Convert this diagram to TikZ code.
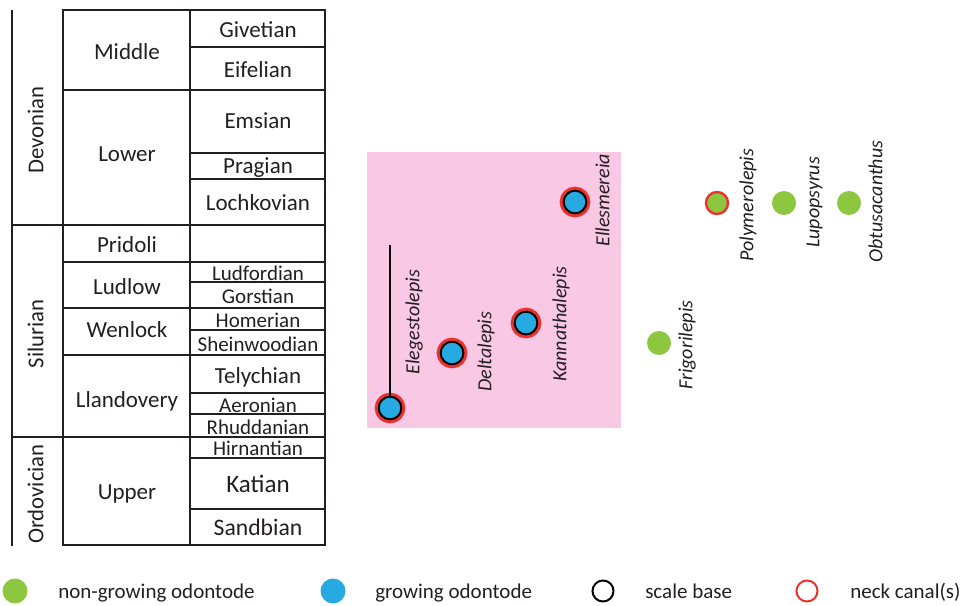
\documentclass[tikz,border=0pt]{standalone}
\usepackage{fontspec}
\setmainfont{Carlito}
\definecolor{ink}{RGB}{35,31,32}
\definecolor{pinkbg}{RGB}{248,200,228}
\definecolor{myblue}{RGB}{39,170,225}
\definecolor{mygreen}{RGB}{141,198,63}
\definecolor{myred}{RGB}{237,50,45}
\tikzset{
  grid/.style={draw=ink, line width=1.5pt},
  txt/.style={inner sep=0pt, text height=0.64em, text depth=0pt, text=ink, yshift=-2.25pt, font=\fontsize{17.25}{20}\selectfont},
  small/.style={txt, font=\fontsize{15.75}{18}\selectfont},
  period/.style={inner sep=0pt, text height=0.64em, text depth=0pt, text=ink, rotate=90, font=\fontsize{17}{20}\selectfont},
  taxon/.style={inner sep=0pt, text height=0.64em, text depth=0pt, text=ink, rotate=90, anchor=west, font=\fontsize{15}{18}\itshape},
  legtxt/.style={inner sep=0pt, text height=0.64em, text depth=0pt, text=ink, anchor=west, yshift=-2.25pt, font=\fontsize{15.75}{18}\selectfont},
  growneck/.style={circle, inner sep=0pt, minimum size=17pt, fill=myblue, draw=black, line width=1.5pt, preaction={draw=myred, line width=6pt}},
  greenneck/.style={circle, inner sep=0pt, minimum size=16.5pt, fill=mygreen, draw=myred, line width=1.8pt},
  greendot/.style={circle, inner sep=0pt, minimum size=18pt, fill=mygreen},
  bluedot/.style={circle, inner sep=0pt, minimum size=18.75pt, fill=myblue},
  ringdot/.style={circle, inner sep=0pt, minimum size=15.75pt, line width=1.5pt},
}
\begin{document}
\begin{tikzpicture}[x=0.75pt,y=-0.75pt]
\useasboundingbox (0,0) rectangle (960,606);

% ---- time scale table ----
\draw[grid] (12,10) -- (12,546);
\draw[grid] (12,225) -- (63,225);
\draw[grid] (12,437) -- (63,437);
% epochs
\foreach \a/\b in {10/90,90/225,225/262,262/308,308/355,355/437,437/545}
  \draw[grid] (63,\a) rectangle (190,\b);
% stages
\foreach \a/\b in {10/47,47/90,90/153,153/179,179/225,225/262,262/282,282/308,308/330,330/355,355/393,393/414,414/437,437/458,458/509,509/545}
  \draw[grid] (190,\a) rectangle (325,\b);

\node[period] (dev) at (39,130) {Devonian};
\node[period] (sil) at (39,334) {Silurian};
\node[period] (ord) at (39,494) {Ordovician};

\node[txt] (middle) at (127,52) {Middle};
\node[txt] (lower) at (127,154) {Lower};
\node[txt] (pridoli) at (127,245) {Pridoli};
\node[txt] (ludlow) at (127,287) {Ludlow};
\node[txt] (wenlock) at (127,330) {Wenlock};
\node[txt] (llando) at (127,400) {Llandovery};
\node[txt] (upper) at (127,492) {Upper};

\node[txt] (givet) at (258,30) {Givetian};
\node[txt] (eifel) at (258,70) {Eifelian};
\node[txt] (emsian) at (258,121) {Emsian};
\node[txt] (pragian) at (258,166) {Pragian};
\node[txt] (lochk) at (258,203) {Lochkovian};
\node[small] (ludf) at (258,273) {Ludfordian};
\node[small] (gorst) at (258,296) {Gorstian};
\node[small] (homer) at (258,320) {Homerian};
\node[small] (shein) at (258,344) {Sheinwoodian};
\node[txt] (tely) at (258,376) {Telychian};
\node[small] (aeron) at (258,405) {Aeronian};
\node[small] (rhudd) at (258,427) {Rhuddanian};
\node[small] (hirn) at (258,448) {Hirnantian};
\node[txt, font=\fontsize{18.75}{22}\selectfont] (katian) at (258,485) {Katian};
\node[txt, font=\fontsize{17.75}{21}\selectfont] (sandb) at (258,528) {Sandbian};

% ---- pink box ----
\fill[pinkbg] (367,152) rectangle (621,428);

% ---- taxa ----
\node[growneck] (ele) at (390,408) {};
\coordinate (eletop) at (390,245);
\draw[black, line width=1.5pt] (eletop) -- (ele.north);
\node[growneck] (delta) at (452,353) {};
\node[growneck] (kanna) at (526,323) {};
\node[growneck] (elles) at (575,202) {};
\node[greendot] (frig) at (659,343) {};
\node[greenneck] (poly) at (717,203) {};
\node[greendot] (lupo) at (784,203) {};
\node[greendot] (obtu) at (849,203) {};

\node[taxon] (elelab) at (415,375) {Elegestolepis};
\node[taxon] (deltalab) at (487,392) {Deltalepis};
\node[taxon] (kannalab) at (562,382) {Kannathalepis};
\node[taxon] (elleslab) at (605,247) {Ellesmereia};
\node[taxon] (friglab) at (688,390) {Frigorilepis};
\node[taxon] (polylab) at (749,262) {Polymerolepis};
\node[taxon] (lupolab) at (815,248) {Lupopsyrus};
\node[taxon] (obtulab) at (878,263) {Obtusacanthus};

% ---- legend ----
\node[greendot, minimum size=18.75pt] (lg1) at (15,591) {};
\node[legtxt] (lt1) at (58,591) {non-growing odontode};
\node[bluedot] (lg2) at (333,591) {};
\node[legtxt] (lt2) at (375,591) {growing odontode};
\node[ringdot, draw=black] (lg3) at (603,591) {};
\node[legtxt] (lt3) at (645,591) {scale base};
\node[ringdot, draw=myred] (lg4) at (807,591) {};
\node[legtxt] (lt4) at (850,591) {neck canal(s)};
\end{tikzpicture}
\end{document}
